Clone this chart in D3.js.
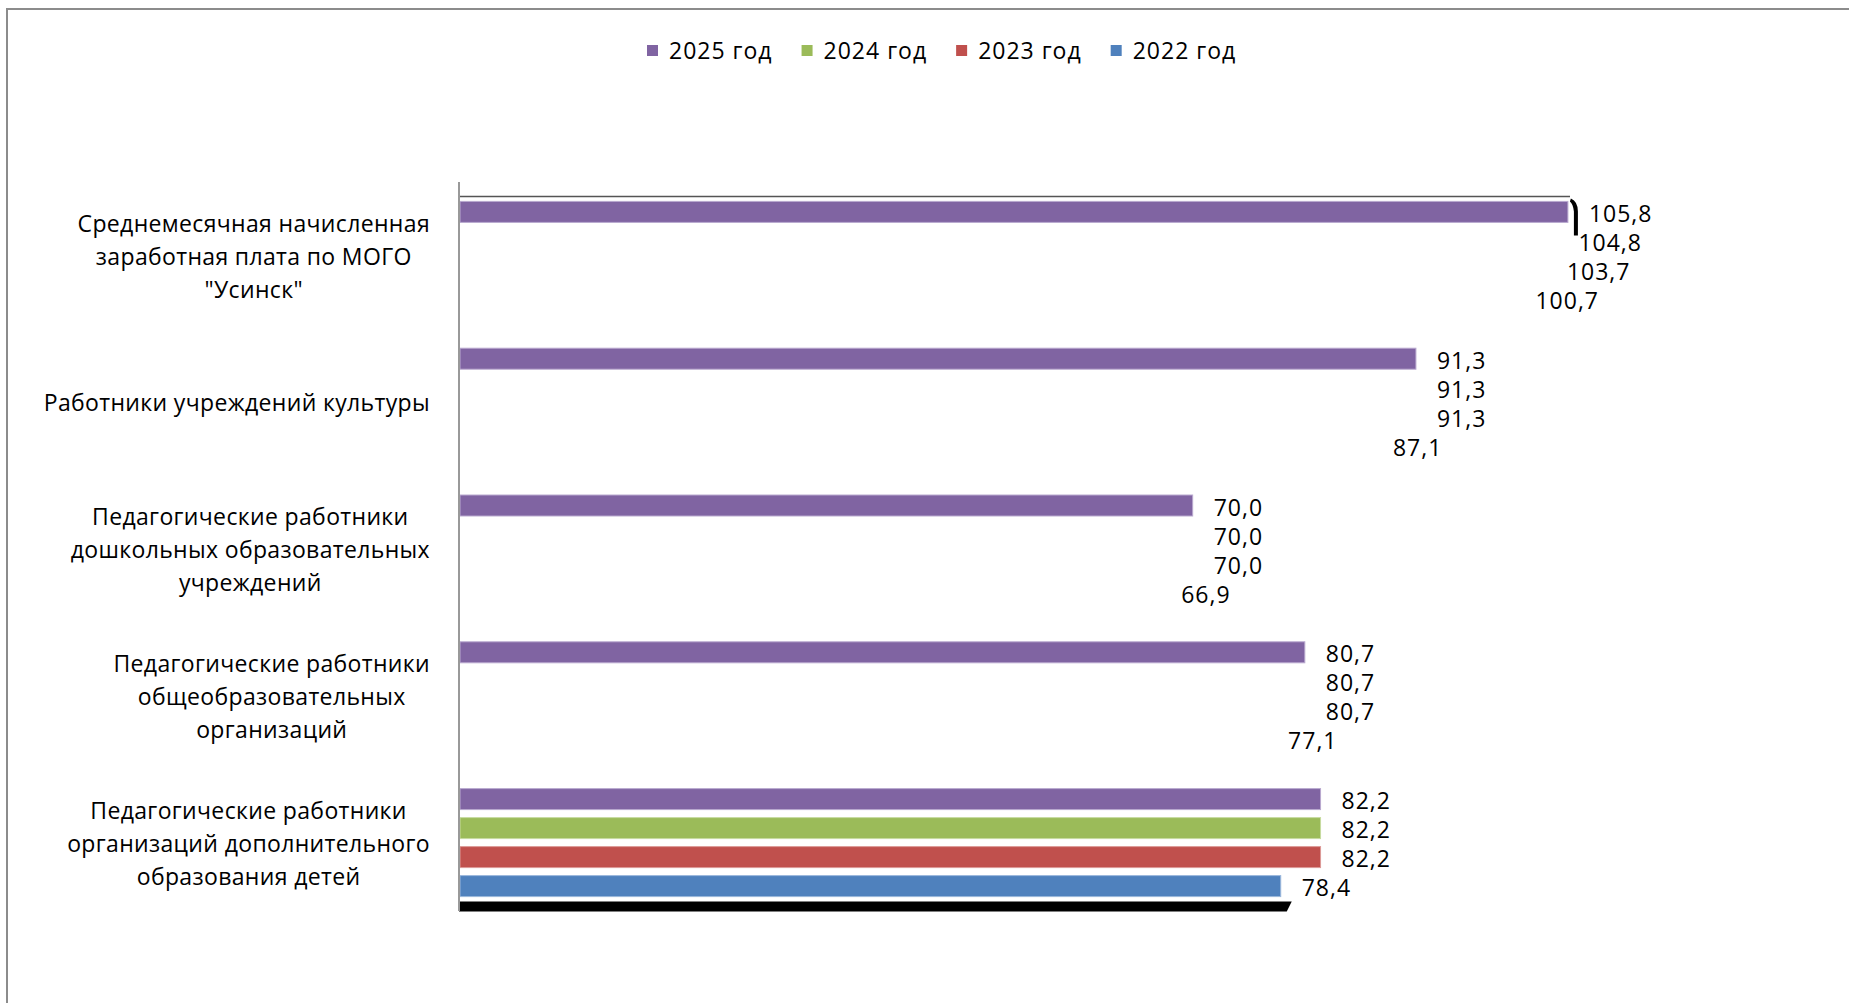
<!DOCTYPE html>
<html>
<head>
<meta charset="utf-8">
<script src="https://cdn.jsdelivr.net/npm/d3@7"></script>
<style>
  html, body { margin: 0; padding: 0; background: #fff; }
  svg { display: block; }
  text { font-family: "Open Sans", "Noto Sans", sans-serif; fill: #000; }
</style>
</head>
<body>
<div id="chart"></div>
<script>
// categories (lines as they wrap in the original)
const categories = [
  ["Среднемесячная начисленная", "заработная плата по МОГО", "\"Усинск\""],
  ["Работники учреждений культуры"],
  ["Педагогические работники", "дошкольных образовательных", "учреждений"],
  ["Педагогические работники", "общеобразовательных", "организаций"],
  ["Педагогические работники", "организаций дополнительного", "образования детей"]
];
const series = ["2025 год", "2024 год", "2023 год", "2022 год"];
const values2025 = [105.8, 91.3, 70.0, 80.7, 82.2];
const values2024 = [104.8, 91.3, 70.0, 80.7, 82.2];
const values2023 = [103.7, 91.3, 70.0, 80.7, 82.2];
const values2022 = [100.7, 87.1, 66.9, 77.1, 78.4];
const seriesValues = [values2025, values2024, values2023, values2022];
const colors = ["#8064A2", "#9BBB59", "#C0504D", "#4F81BD"];
const edgeColors = ["#b9a9cf", "#c7dba0", "#dc9a98", "#9bb8dc"];

const width = 1849, height = 1003;
const svg = d3.select("#chart").append("svg")
  .attr("width", width).attr("height", height);

// outer frame (runs off the right and bottom of the picture)
svg.append("rect")
  .attr("x", 7).attr("y", 9).attr("width", 1900).attr("height", 1100)
  .attr("fill", "none").attr("stroke", "#8c8c8c").attr("stroke-width", 2);

const x = d3.scaleLinear().domain([0, 106]).range([459, 1570]);
const y0 = d3.scaleBand().domain(d3.range(categories.length)).range([182, 916]);
const y1 = d3.scaleBand().domain(d3.range(series.length))
  .range([y0.bandwidth() / 2 - 58, y0.bandwidth() / 2 + 58])
  .paddingInner(8 / 29).paddingOuter(4 / 29);

// flat rows: one per category x series
const rows = [];
categories.forEach((c, i) => series.forEach((s, j) => {
  rows.push({ cat: i, ser: j, value: seriesValues[j][i] });
}));

const g = svg.append("g");

// top edge line
g.append("line")
  .attr("x1", x(0)).attr("x2", x.range()[1])
  .attr("y1", 196.5).attr("y2", 196.5)
  .attr("stroke", "#555").attr("stroke-width", 1.5);

// in the source only the 2025 bars are rendered for the first four groups
const lastCat = categories.length - 1;
g.selectAll(".bar")
  .data(rows.filter(d => d.ser === 0 || d.cat === lastCat))
  .enter().append("rect")
  .attr("class", "bar")
  .attr("x", x(0) + 1)
  .attr("y", d => y0(d.cat) + y1(d.ser))
  .attr("width", d => x(d.value) - x(0) - 1)
  .attr("height", y1.bandwidth())
  .attr("fill", d => colors[d.ser])
  .attr("stroke", d => edgeColors[d.ser])
  .attr("stroke-width", 1);

// black floor under the last group
const blue = seriesValues[3][lastCat];
const fy = y0(lastCat) + y1(3) + y1.bandwidth() + 5;
g.append("path")
  .attr("d", `M${x(0)},${fy} L${x(blue) + 11},${fy} L${x(blue) + 8},${fy + 6} L${x(blue) + 6},${fy + 10} L${x(0)},${fy + 10} Z`)
  .attr("fill", "#000");

// black side edge at the end of the first bar
const tx = x(seriesValues[0][0]);
const ty = y0(0) + y1(0);
g.append("path")
  .attr("d", `M${tx + 3},${ty - 3} Q${tx + 10},${ty} ${tx + 10},${ty + 10} L${tx + 10},${ty + 34} L${tx + 6},${ty + 34} L${tx + 6},${ty + 10} Q${tx + 5},${ty + 2} ${tx + 2},${ty} Z`)
  .attr("fill", "#000");

// vertical axis
g.append("line")
  .attr("x1", x(0)).attr("x2", x(0))
  .attr("y1", 182).attr("y2", 911)
  .attr("stroke", "#999").attr("stroke-width", 2);

// value labels
g.selectAll(".val")
  .data(rows)
  .enter().append("text")
  .attr("class", "val")
  .attr("x", d => x(d.value) + 21)
  .attr("y", d => y0(d.cat) + y1(d.ser) + y1.bandwidth() / 2 + 4)
  .attr("dominant-baseline", "middle")
  .style("font-size", "23px")
  .style("letter-spacing", "1px")
  .text(d => d3.format(".1f")(d.value).replace(".", ","));

// category labels: lines centered, block right-aligned at x=430
categories.forEach((lines, i) => {
  const cy = y0(i) + y0.bandwidth() / 2 + 3;
  const t = g.append("text")
    .attr("text-anchor", "middle")
    .style("font-size", "23px")
    .style("letter-spacing", "0.35px");
  lines.forEach((ln, k) => {
    t.append("tspan")
      .attr("x", 0)
      .attr("y", cy + (k - (lines.length - 1) / 2) * 33)
      .attr("dominant-baseline", "middle")
      .text(ln);
  });
  let maxW = 0;
  t.selectAll("tspan").each(function () {
    maxW = Math.max(maxW, this.getComputedTextLength());
  });
  t.selectAll("tspan").attr("x", 430 - maxW / 2);
});

// legend
const legend = svg.append("g");
let lx = 647;
series.forEach((s, j) => {
  legend.append("rect")
    .attr("x", lx).attr("y", 45).attr("width", 11).attr("height", 11)
    .attr("fill", colors[j]);
  const t = legend.append("text")
    .attr("x", lx + 22).attr("y", 53)
    .attr("dominant-baseline", "middle")
    .style("font-size", "23px")
    .style("letter-spacing", "1px")
    .text(s);
  lx += 22 + t.node().getComputedTextLength() + 29;
});
</script>
</body>
</html>
